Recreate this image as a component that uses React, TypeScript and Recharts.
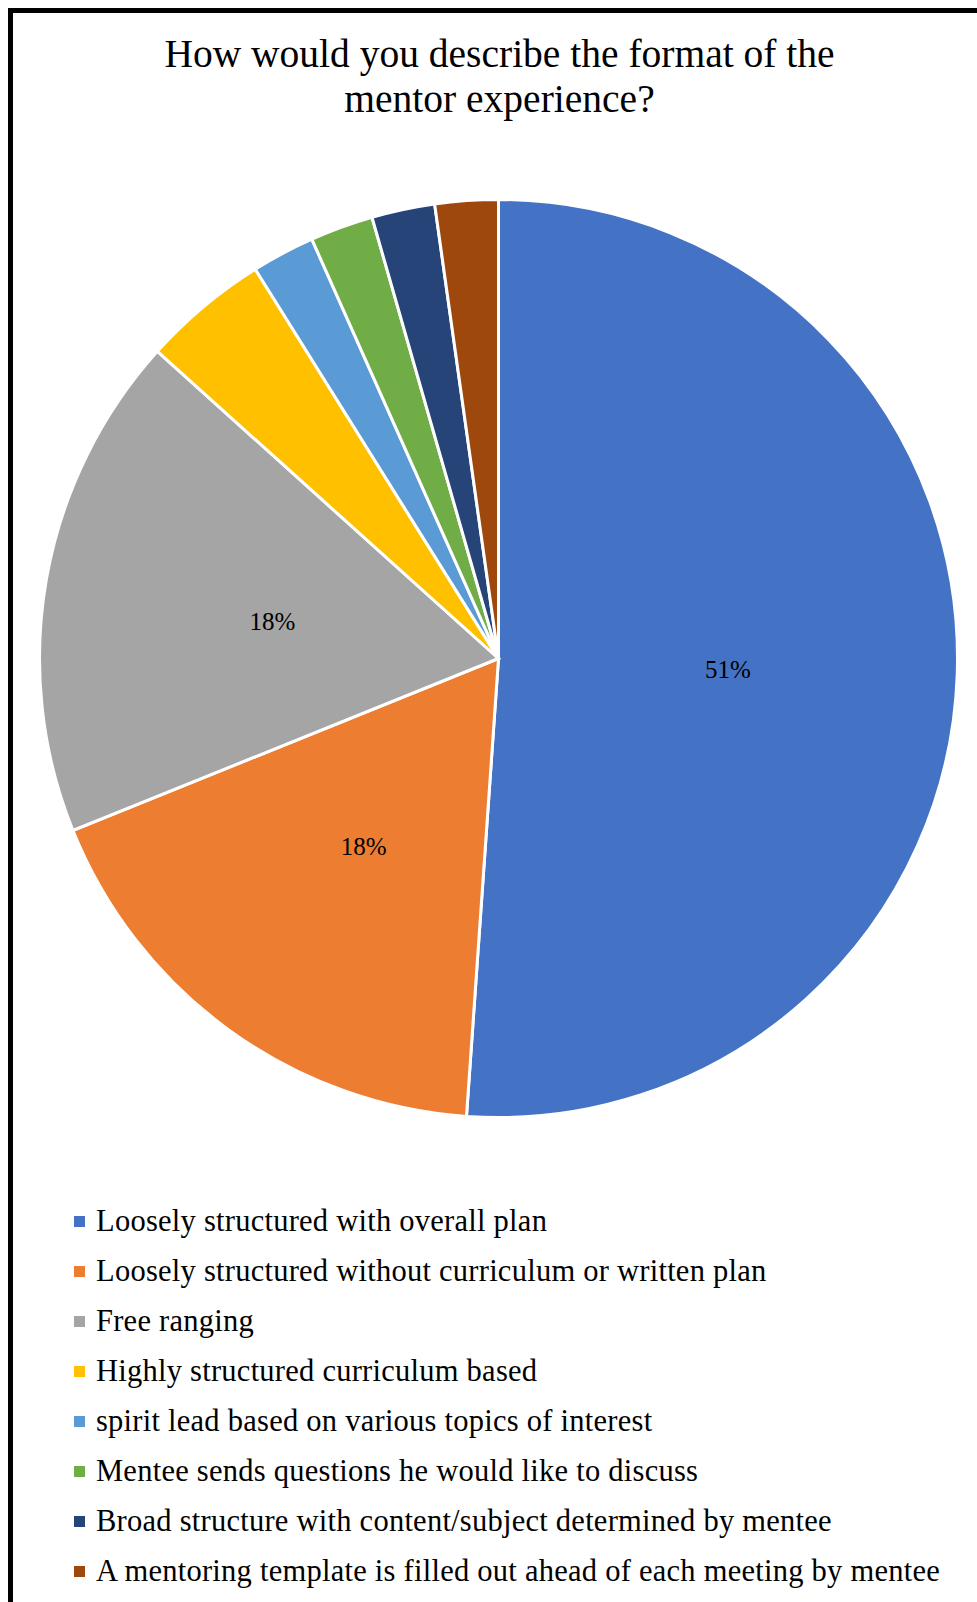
import React from "react";

import { PieChart, Pie, Cell } from "recharts";

const categories = [
  "Loosely structured with overall plan",
  "Loosely structured without curriculum or written plan",
  "Free ranging",
  "Highly structured curriculum based",
  "spirit lead based on various topics of interest",
  "Mentee sends questions he would like to discuss",
  "Broad structure with content/subject determined by mentee",
  "A mentoring template is filled out ahead of each meeting by mentee",
];

const counts = [23, 8, 8, 2, 1, 1, 1, 1];

const colors = [
  "#4472C4",
  "#ED7D31",
  "#A5A5A5",
  "#FFC000",
  "#5B9BD5",
  "#70AD47",
  "#264478",
  "#9E480E",
];

const titleLines = ["How would you describe the format of the", "mentor experience?"];

const FONT = '"Liberation Serif", "Times New Roman", serif';
const RADIAN = Math.PI / 180;

const data = categories.map((name, i) => ({ name, value: counts[i] }));

const renderLabel = (props: any) => {
  const { cx, cy, midAngle, outerRadius, percent } = props;
  // Excel only showed labels on the big slices
  if (percent < 0.1) return null;
  const r = outerRadius * 0.5;
  const x = cx + r * Math.cos(-midAngle * RADIAN);
  const y = cy + r * Math.sin(-midAngle * RADIAN);
  return (
    <text
      x={x}
      y={y}
      dy={2.5}
      fill="#000"
      fontSize={25}
      fontFamily={FONT}
      textAnchor="middle"
      dominantBaseline="central"
    >
      {`${Math.round(percent * 100)}%`}
    </text>
  );
};

const App: React.FC = () => {
  return (
    <div
      style={{
        position: "absolute",
        left: 0,
        top: 0,
        width: 977,
        height: 1602,
        overflow: "hidden",
        background: "#fff",
        fontFamily: FONT,
      }}
    >
      {/* frame, only top and left edges are visible */}
      <div
        style={{
          position: "absolute",
          left: 8,
          top: 8,
          width: 1000,
          height: 1700,
          borderTop: "5px solid #000",
          borderLeft: "5px solid #000",
          boxSizing: "border-box",
        }}
      />

      <div
        style={{
          position: "absolute",
          left: 0,
          top: 32,
          width: 999,
          textAlign: "center",
          fontSize: 39.5,
          lineHeight: "45px",
          color: "#000",
        }}
      >
        {titleLines.map((t) => (
          <div key={t}>{t}</div>
        ))}
      </div>

      <div style={{ position: "absolute", left: 0, top: 0 }}>
        <PieChart
          width={977}
          height={1180}
          margin={{ top: 0, right: 0, bottom: 0, left: 0 }}
        >
          <Pie
            data={data}
            dataKey="value"
            nameKey="name"
            cx={498.5}
            cy={658.5}
            outerRadius={459}
            startAngle={90}
            endAngle={-270}
            stroke="#fff"
            strokeWidth={3}
            label={renderLabel}
            labelLine={false}
            isAnimationActive={false}
          >
            {data.map((d, i) => (
              <Cell key={d.name} fill={colors[i]} />
            ))}
          </Pie>
        </PieChart>
      </div>

      <div style={{ position: "absolute", left: 74, top: 1196 }}>
        {categories.map((c, i) => (
          <div
            key={c}
            style={{
              height: 50,
              display: "flex",
              alignItems: "center",
              fontSize: 30.5,
              letterSpacing: 0.25,
              color: "#000",
              whiteSpace: "nowrap",
            }}
          >
            <span
              style={{
                display: "inline-block",
                width: 11,
                height: 11,
                background: colors[i],
                marginRight: 11,
              }}
            />
            <span>{c}</span>
          </div>
        ))}
      </div>
    </div>
  );
};

export default App;
